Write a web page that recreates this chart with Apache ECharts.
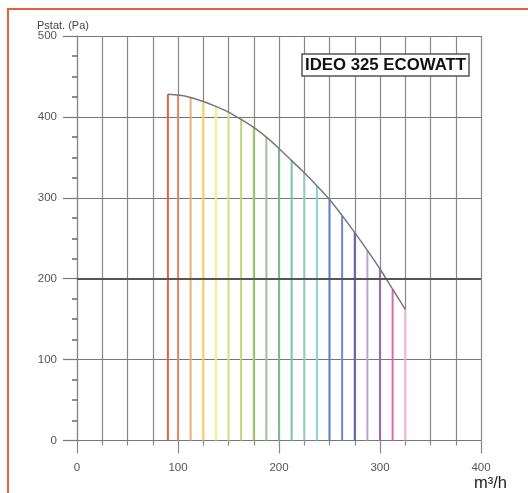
<!DOCTYPE html>
<html>
<head>
<meta charset="utf-8">
<script src="https://cdn.jsdelivr.net/npm/echarts@6/dist/echarts.min.js"></script>
<style>
html,body{margin:0;padding:0;background:#fff;}
#frame{position:absolute;left:7px;top:8px;width:521px;height:485px;border-left:2px solid #e0653f;border-top:2px solid #e0653f;}
#chart{position:absolute;left:0;top:0;width:528px;height:493px;}
</style>
</head>
<body>
<div id="frame"></div>
<div id="chart"></div>
<script>
// Airflow (m3/h) at each coloured line and static pressure (Pa) on the curve
const flows = [90, 100, 112.5, 125, 137.5, 150, 162.5, 175, 187.5, 200, 212.5, 225, 237.5, 250, 262.5, 275, 287.5, 300, 312.5, 325];
const pressures = [428, 427, 424, 419, 413, 406, 397, 387, 375, 361, 346, 331, 315, 298, 278, 257, 235, 212, 187, 162];
const lineColors = ['#e0604e', '#e08a66', '#e8b07e', '#f2cf5e', '#eef08a', '#d6e57c', '#bcd97a', '#a2cc72', '#98c690', '#7dbb8a', '#74c6a2', '#94ccc4', '#86d0d6', '#5a7fcf', '#6d88d2', '#6a64aa', '#c2a2d2', '#a466b2', '#de6aa8', '#f2b6d4'];
const xTicks = [0, 100, 200, 300, 400];
const yTicks = [0, 100, 200, 300, 400, 500];
const titleText = 'IDEO 325 ECOWATT';
const yName = 'Pstat. (Pa)';
const xName = 'm³/h';

const chart = echarts.init(document.getElementById('chart'), null, {renderer: 'canvas'});
const curve = flows.map((f, i) => [f, pressures[i]]);
const bars = flows.map((f, i) => ({value: [f, pressures[i]], itemStyle: {color: lineColors[i]}}));

chart.setOption({
  animation: false,
  backgroundColor: 'transparent',
  textStyle: {fontFamily: 'Liberation Sans, Arial, sans-serif'},
  title: {
    text: titleText,
    left: 302, top: 54,
    backgroundColor: '#fff',
    borderColor: '#555', borderWidth: 1.5,
    padding: [3, 3, 2, 3],
    textStyle: {fontFamily: 'Liberation Sans, Arial, sans-serif', fontWeight: 'bold', fontSize: 16.8, lineHeight: 17, color: '#111'}
  },
  graphic: [
    {type: 'text', left: 37, top: 20, style: {text: yName, font: '11px Liberation Sans, Arial, sans-serif', fill: '#444'}},
    {type: 'text', left: 474, top: 475, style: {text: xName, font: '16.5px Liberation Sans, Arial, sans-serif', fill: '#222'}}
  ],
  grid: {left: 77, right: 47, top: 36, bottom: 52.5, containLabel: false},
  xAxis: {
    type: 'value', min: xTicks[0], max: xTicks[xTicks.length - 1], interval: 100,
    axisLine: {show: true, lineStyle: {color: '#777', width: 1.2}},
    axisTick: {show: true, length: 13, lineStyle: {color: '#888', width: 1.2}},
    minorTick: {show: true, splitNumber: 4, length: 5, lineStyle: {color: '#888', width: 1.2}},
    splitLine: {show: true, lineStyle: {color: '#888', width: 1.2}},
    minorSplitLine: {show: true, lineStyle: {color: '#888', width: 1.2}},
    axisLabel: {margin: 21, fontSize: 11.5, color: '#555', showMaxLabel: true}
  },
  yAxis: {
    type: 'value', min: yTicks[0], max: yTicks[yTicks.length - 1], interval: 100,
    axisLine: {show: true, lineStyle: {color: '#888', width: 1.2}},
    axisTick: {show: true, length: 14, lineStyle: {color: '#777', width: 1.2}},
    minorTick: {show: true, splitNumber: 4, length: 5, lineStyle: {color: '#666', width: 1.5}},
    splitLine: {show: true, lineStyle: {color: '#777', width: 1.2}},
    axisLabel: {margin: 20, fontSize: 11.5, color: '#555'}
  },
  series: [
    {
      type: 'bar', data: bars, barWidth: 2, silent: true, z: 3,
      markLine: {
        silent: true, symbol: 'none', label: {show: false},
        lineStyle: {color: '#555', width: 2.2, type: 'solid'},
        data: [{yAxis: 200}]
      }
    },
    {
      type: 'line', data: curve, smooth: 0.3, showSymbol: false, silent: true, z: 4,
      lineStyle: {color: '#777', width: 1.5}
    }
  ]
});
</script>
</body>
</html>
